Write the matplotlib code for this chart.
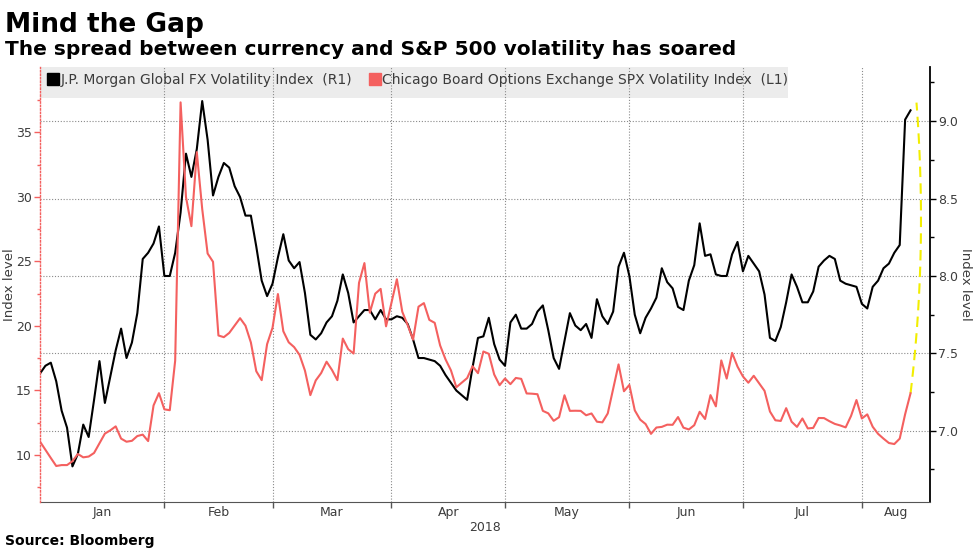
import numpy as np
import pandas as pd
import matplotlib
matplotlib.use("Agg")
import matplotlib.pyplot as plt
from matplotlib.lines import Line2D
from matplotlib.patches import Rectangle

# weekday axis, Bloomberg style (holidays kept as weekdays)
dates = pd.bdate_range("2017-12-29", "2018-08-13")

# J.P. Morgan Global FX Volatility Index (right axis)
fx_vol = [7.37, 7.42, 7.44, 7.32, 7.13, 7.02, 6.77, 6.85, 7.04, 6.96,
          7.20, 7.45, 7.18, 7.35, 7.52, 7.66, 7.47, 7.57, 7.76, 8.11,
          8.15, 8.21, 8.32, 8.00, 8.00, 8.15, 8.41, 8.79, 8.64, 8.82,
          9.13, 8.88, 8.52, 8.64, 8.73, 8.70, 8.58, 8.51, 8.39, 8.39,
          8.19, 7.97, 7.87, 7.95, 8.12, 8.27, 8.10, 8.05, 8.09, 7.89,
          7.62, 7.59, 7.63, 7.70, 7.74, 7.84, 8.01, 7.89, 7.70, 7.74,
          7.78, 7.78, 7.72, 7.78, 7.72, 7.72, 7.74, 7.73, 7.69, 7.59,
          7.47, 7.47, 7.46, 7.45, 7.42, 7.36, 7.31, 7.26, 7.23, 7.20,
          7.41, 7.60, 7.61, 7.73, 7.56, 7.46, 7.42, 7.70, 7.75, 7.66,
          7.66, 7.69, 7.77, 7.81, 7.65, 7.47, 7.40, 7.58, 7.76, 7.68,
          7.65, 7.69, 7.60, 7.85, 7.74, 7.69, 7.77, 8.06, 8.15, 8.00,
          7.75, 7.63, 7.73, 7.79, 7.86, 8.05, 7.96, 7.92, 7.80, 7.78,
          7.97, 8.07, 8.34, 8.13, 8.14, 8.01, 8.00, 8.00, 8.14, 8.22,
          8.03, 8.13, 8.08, 8.03, 7.88, 7.60, 7.58, 7.67, 7.83, 8.01,
          7.93, 7.83, 7.83, 7.90, 8.06, 8.10, 8.13, 8.11, 7.97, 7.95,
          7.94, 7.93, 7.82, 7.79, 7.93, 7.97, 8.05, 8.08, 8.15, 8.20,
          9.01, 9.07]

# CBOE SPX Volatility Index (left axis)
vix = [11.04, 10.40, 9.77, 9.15, 9.22, 9.22, 9.52, 10.08, 9.82, 9.88,
       10.16, 10.91, 11.66, 11.91, 12.22, 11.27, 11.03, 11.10, 11.47, 11.58,
       11.08, 13.84, 14.79, 13.54, 13.47, 17.31, 37.32, 29.98, 27.73, 33.46,
       29.06, 25.61, 24.97, 19.26, 19.13, 19.46, 20.03, 20.60, 20.02, 18.72,
       16.49, 15.80, 18.59, 19.85, 22.47, 19.59, 18.73, 18.36, 17.76, 16.54,
       14.64, 15.78, 16.35, 17.23, 16.59, 15.80, 19.02, 18.20, 17.86, 23.34,
       24.87, 21.03, 22.50, 22.87, 19.97, 21.80, 23.62, 21.10, 20.06, 18.94,
       21.49, 21.77, 20.47, 20.24, 18.49, 17.41, 16.56, 15.25, 15.60, 15.96,
       16.88, 16.34, 18.02, 17.84, 16.24, 15.41, 15.93, 15.49, 15.97, 15.90,
       14.77, 14.75, 14.71, 13.42, 13.23, 12.65, 12.93, 14.63, 13.42, 13.43,
       13.42, 13.08, 13.22, 12.58, 12.53, 13.22, 15.12, 17.02, 14.94, 15.43,
       13.46, 12.74, 12.40, 11.64, 12.13, 12.18, 12.35, 12.34, 12.94, 12.12,
       11.98, 12.31, 13.35, 12.79, 14.64, 13.77, 17.33, 15.92, 17.91, 16.85,
       16.09, 15.60, 16.14, 15.55, 14.97, 13.37, 12.69, 12.64, 13.63, 12.58,
       12.18, 12.83, 12.06, 12.10, 12.87, 12.86, 12.62, 12.41, 12.29, 12.14,
       13.03, 14.26, 12.83, 13.15, 12.19, 11.64, 11.27, 10.93, 10.85, 11.27,
       13.16, 14.78]

month_starts = pd.date_range("2018-01-01", "2018-08-01", freq="MS")
month_names = ["Jan", "Feb", "Mar", "Apr", "May", "Jun", "Jul", "Aug"]
year_label = "2018"
fx_name = "J.P. Morgan Global FX Volatility Index  (R1)"
vix_name = "Chicago Board Options Exchange SPX Volatility Index  (L1)"
GAP_TOP = 9.12   # where the yellow "gap" marker ends (right axis)

RED = "#f4605f"
GRID = "#8a8a8a"
TXT = "#3c3c3c"
XMAX = 164.6

x = np.arange(len(dates))
fig = plt.figure(figsize=(9.77, 5.49), dpi=100)
ax = fig.add_axes([40/977, 47/549, 890/977, 435/549])
axl = ax.twinx()

# right axis (black series) lives on the bottom axes
ax.plot(x, fx_vol, color="black", lw=1.5, zorder=2)
ax.set_xlim(0, XMAX)
ax.set_ylim(6.54, 9.35)
ax.yaxis.tick_right()
ax.set_yticks(np.arange(7.0, 9.01, 0.5))
ax.set_yticks(np.arange(6.75, 9.3, 0.5), minor=True)
ax.yaxis.set_major_formatter(matplotlib.ticker.FormatStrFormatter("%.1f"))
ax.tick_params(axis="y", which="major", length=4, width=1, colors="black", labelcolor=TXT, labelsize=9, pad=2)
ax.tick_params(axis="y", which="minor", length=3, width=1, colors="black")

# months: ticks at the last weekday before each month, labels in the middle
mpos = [int(np.searchsorted(dates, m)) - 1 for m in month_starts]
mpos[0] = max(mpos[0], 0)
edges = mpos + [XMAX]
mids = [(edges[i] + edges[i+1]) / 2 for i in range(len(mpos))]
ax.set_xticks(mpos[1:])
ax.set_xticklabels([])
ax.set_xticks(mids, minor=True)
ax.set_xticklabels(month_names, minor=True)
ax.tick_params(axis="x", which="major", length=4, width=1, colors="#555555")
ax.tick_params(axis="x", which="minor", length=0, labelcolor=TXT, labelsize=9, pad=3)
ax.set_xlabel(year_label, color=TXT, fontsize=9, labelpad=1)
ax.set_axisbelow(True)
ax.grid(True, which="major", color=GRID, lw=0.8, linestyle=(0, (1, 1.6)))

for s in ("top", "left"):
    ax.spines[s].set_visible(False)
ax.spines["right"].set_color("black")
ax.spines["right"].set_linewidth(1.3)
ax.spines["bottom"].set_color("#555555")

# left axis (red series)
axl.plot(x, vix, color=RED, lw=1.5, zorder=3)
axl.set_ylim(6.36, 40.06)
axl.yaxis.tick_left()
axl.set_yticks(np.arange(10, 36, 5))
axl.set_yticks(np.arange(7.5, 40, 2.5), minor=True)
axl.tick_params(axis="y", which="major", length=4, width=1, colors=RED, labelcolor=TXT, labelsize=9, pad=2)
axl.tick_params(axis="y", which="minor", length=2, width=1, colors=RED)
for s in ("top", "right", "bottom"):
    axl.spines[s].set_visible(False)
axl.spines["left"].set_color(RED)
axl.spines["left"].set_linestyle((0, (1, 1.5)))
axl.spines["left"].set_linewidth(1)

ymid = 1 - 284.5/549
fig.text(10/977, ymid, "Index level", rotation=90, ha="center", va="center", color=TXT, fontsize=9.5)
fig.text(966/977, ymid, "Index level", rotation=270, ha="center", va="center", color=TXT, fontsize=9.5)

# legend strip
ax.add_patch(Rectangle((0, 0.929), 0.840, 0.071, transform=ax.transAxes,
                       facecolor="#ececec", edgecolor="none", zorder=0.2))
handles = [Line2D([], [], marker="s", ls="none", color="black", ms=8),
           Line2D([], [], marker="s", ls="none", color=RED, ms=8)]
ax.legend(handles, [fx_name, vix_name], ncol=2, loc="upper left",
          bbox_to_anchor=(0.004, 1.0), frameon=False, fontsize=10,
          handlelength=0.6, handletextpad=0.2, columnspacing=1.4,
          borderpad=0.4, borderaxespad=0.0, labelcolor=TXT)

# yellow dashed marker for the gap, from the red end up to the black end
end = x[-1]
p0 = ax.transData.inverted().transform(axl.transData.transform((end, vix[-1])))
p2 = np.array([end + 1.1, GAP_TOP])
p1 = np.array([end + 3.2, 8.16])
t = np.linspace(0, 1, 60)[:, None]
curve = (1 - t)**2 * p0 + 2 * t * (1 - t) * p1 + t**2 * p2
ax.plot(curve[:, 0], curve[:, 1], color="#f2ee00", lw=1.5, dashes=(5, 3), zorder=4, clip_on=False)

fig.text(5/977, 1 - 32/549, "Mind the Gap", fontsize=19, fontweight="bold", color="black")
fig.text(5/977, 1 - 55/549, "The spread between currency and S&P 500 volatility has soared",
         fontsize=14.5, fontweight="bold", color="black")
fig.text(5/977, 1 - 545/549, "Source: Bloomberg", fontsize=10, fontweight="bold", color="black")

fig.savefig("out.png", dpi=100)
